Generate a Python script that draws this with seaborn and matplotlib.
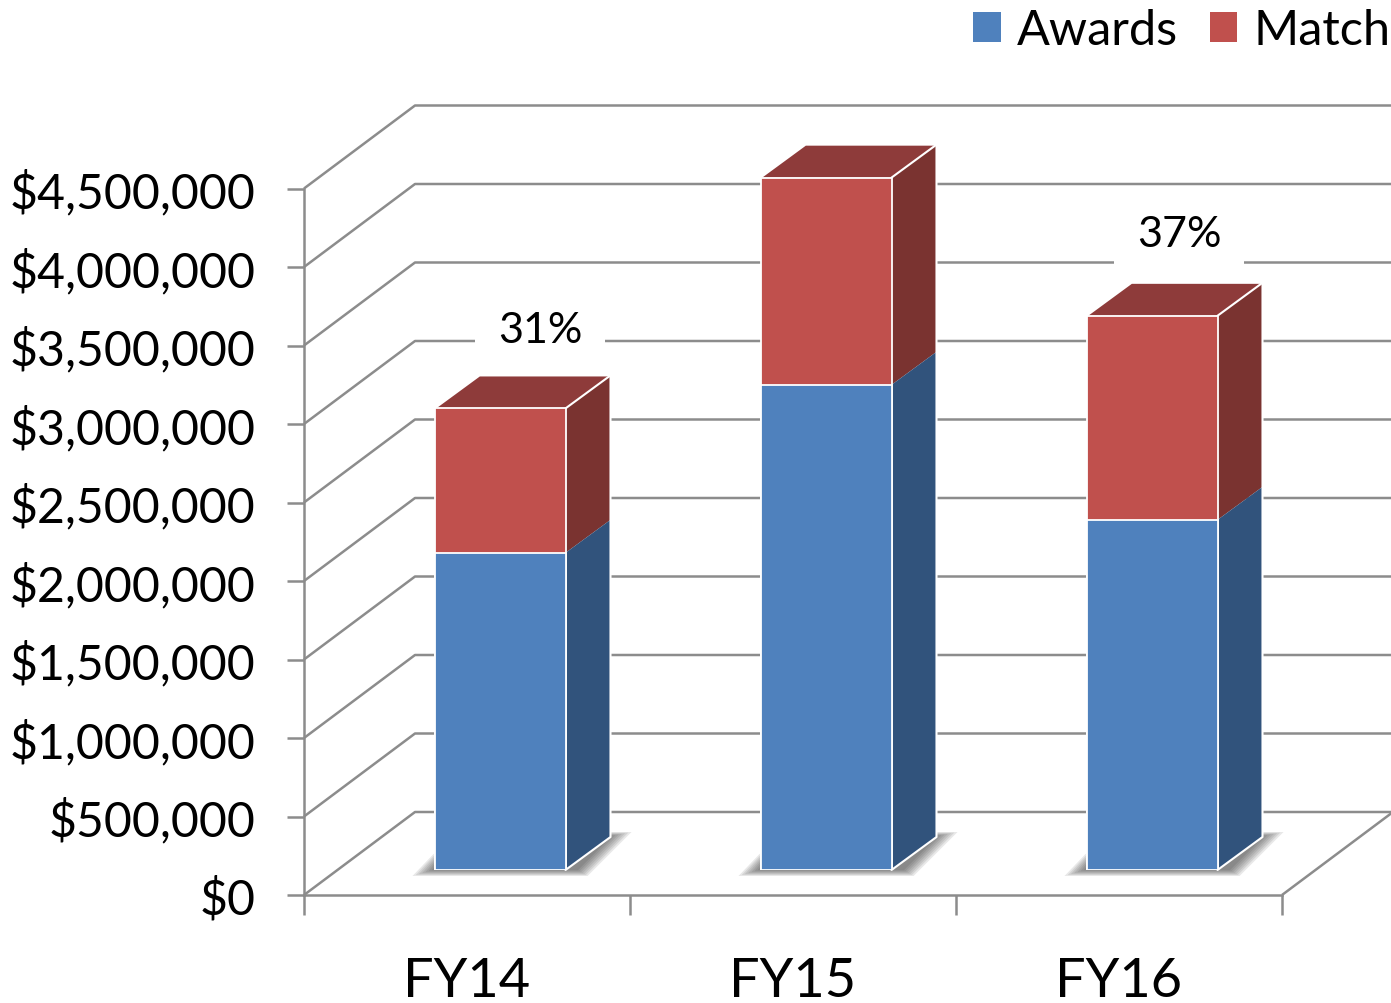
import matplotlib
matplotlib.use("Agg")
import matplotlib.pyplot as plt
import seaborn as sns
from matplotlib.patches import Patch, Polygon

years = ["FY14", "FY15", "FY16"]
awards = [2020000, 3090000, 2230000]
match = [920000, 1320000, 1300000]
pct_labels = ["31%", "30%", "37%"]
y_ticks = [0, 500000, 1000000, 1500000, 2000000, 2500000, 3000000, 3500000, 4000000, 4500000]
y_tick_labels = ["$0", "$500,000", "$1,000,000", "$1,500,000", "$2,000,000",
                 "$2,500,000", "$3,000,000", "$3,500,000", "$4,000,000", "$4,500,000"]

BLUE, RED = "#4f81bd", "#c0504d"
BLUE_SIDE, RED_SIDE, RED_TOP = "#31537c", "#7a3330", "#8e3b3a"
GRAY = "#8c8c8c"

W, H = 1391, 1004
sns.set_style("white")
plt.rcParams["font.family"] = ["Lato", "DejaVu Sans"]
plt.rcParams["text.color"] = "black"
plt.rcParams["xtick.labelcolor"] = "black"
plt.rcParams["ytick.labelcolor"] = "black"

fig = plt.figure(figsize=(W / 100, H / 100), dpi=100)


def place(left, top, right, bottom):
    return [left / W, 1 - bottom / H, (right - left) / W, (bottom - top) / H]


# front plane carries the real axes, the bars sit a bit further back
ax = fig.add_axes(place(304, 189.5, 1282, 896))
ax2 = fig.add_axes(place(337, 164.5, 1315, 871))
ax2.patch.set_alpha(0)

xlim = (-0.5, 2.5)
ylim = (0, 4500000)
px_x = 3 / 978
px_y = 4500000 / 706.5

# walls and floor
wall_x, wall_y = 111 * px_x, 83 * px_y
grid = dict(color=GRAY, lw=1.8, clip_on=False, solid_capstyle="butt")
for v in y_ticks:
    ax.plot([xlim[0], xlim[0] + wall_x, xlim[1] + wall_x], [v, v + wall_y, v + wall_y], **grid)
ax.plot([xlim[1], xlim[1] + wall_x], [0, wall_y], **grid)
ax.set_xlim(xlim)
ax.set_ylim(ylim)
ax.set_yticks(y_ticks, y_tick_labels)
ax.set_xticks([-0.5, 0.5, 1.5, 2.5], [])
ax.set_xticks([0, 1, 2], years, minor=True)
ax.tick_params(axis="y", length=12, width=1.8, color=GRAY, pad=23, labelsize=34.7, left=True)
ax.tick_params(axis="x", which="major", length=14.5, width=1.8, color=GRAY, bottom=True)
ax.tick_params(axis="x", which="minor", length=0, pad=44, labelsize=39)
sns.despine(ax=ax, top=True, right=True)
for s in ["left", "bottom"]:
    ax.spines[s].set_color(GRAY)
    ax.spines[s].set_linewidth(1.8)

# bars
totals = [a + m for a, m in zip(awards, match)]
bar_w = 131 / 326
sns.barplot(x=years, y=totals, color=RED, saturation=1, width=bar_w, ax=ax2,
            edgecolor="white", linewidth=1.3, zorder=3)
sns.barplot(x=years, y=awards, color=BLUE, saturation=1, width=bar_w, ax=ax2,
            edgecolor="white", linewidth=1.3, zorder=3)
ax2.set_xlim(xlim)
ax2.set_ylim(ylim)
ax2.axis("off")

dx, dy = 45 * px_x, 33 * px_y
offsets = [(40, 45), (34, 40), (27, 49)]
for i, year in enumerate(years):
    x0 = i - bar_w / 2
    x1 = i + bar_w / 2
    a, t = awards[i], totals[i]

    # soft floor shadow
    for k in range(7):
        s = k * 1.6
        pts = [(x0 + (-22 + s * 2) * px_x, (-6 + s * 0.6) * px_y),
               (x1 + (22 - s) * px_x, (-6 + s * 0.6) * px_y),
               (x1 + (66 - s * 2) * px_x, (38 - s * 0.4) * px_y),
               (x1 + (10 - s) * px_x, (38 - s * 0.4) * px_y),
               (x0 + (-1 + s * 0.3) * px_x, (16 - s) * px_y)]
        ax2.add_patch(Polygon(pts, closed=True, fc="#303030", ec="none", alpha=0.11,
                              zorder=1, clip_on=False))

    ax2.add_patch(Polygon([(x1, a), (x1 + dx, a + dy), (x1 + dx, t + dy), (x1, t)],
                          fc=RED_SIDE, ec="none", zorder=2, clip_on=False))
    ax2.add_patch(Polygon([(x1, 0), (x1 + dx, dy), (x1 + dx, a + dy), (x1, a)],
                          fc=BLUE_SIDE, ec="none", zorder=2, clip_on=False))
    ax2.add_patch(Polygon([(x0, t), (x1, t), (x1 + dx, t + dy), (x0 + dx, t + dy)],
                          fc=RED_TOP, ec="none", zorder=2, clip_on=False))
    ax2.plot([x1, x1 + dx, x1 + dx, x0 + dx, x0], [0, dy, t + dy, t + dy, t],
             color="white", lw=1.5, zorder=2.5, clip_on=False)
    ax2.plot([x1, x1 + dx], [t, t + dy], color="white", lw=1.5, zorder=2.5, clip_on=False)

    ox, oy = offsets[i]
    ax2.annotate(pct_labels[i], (i, t + dy), xytext=(ox * 0.72, oy * 0.72),
                 textcoords="offset points", ha="center", va="center", fontsize=31,
                 color="black", zorder=1.5,
                 bbox=dict(boxstyle="square,pad=0.52", fc="white", ec="none"))

handles = [Patch(fc=BLUE, ec="none", label="Awards"), Patch(fc=RED, ec="none", label="Match")]
fig.legend(handles=handles, loc="upper right", bbox_to_anchor=(1.0, 0.991), ncol=2, frameon=False,
           fontsize=35, handlelength=0.56, handleheight=0.56, handletextpad=0.34,
           columnspacing=0.66, borderaxespad=0, borderpad=0)

fig.savefig("out.png", dpi=100)
